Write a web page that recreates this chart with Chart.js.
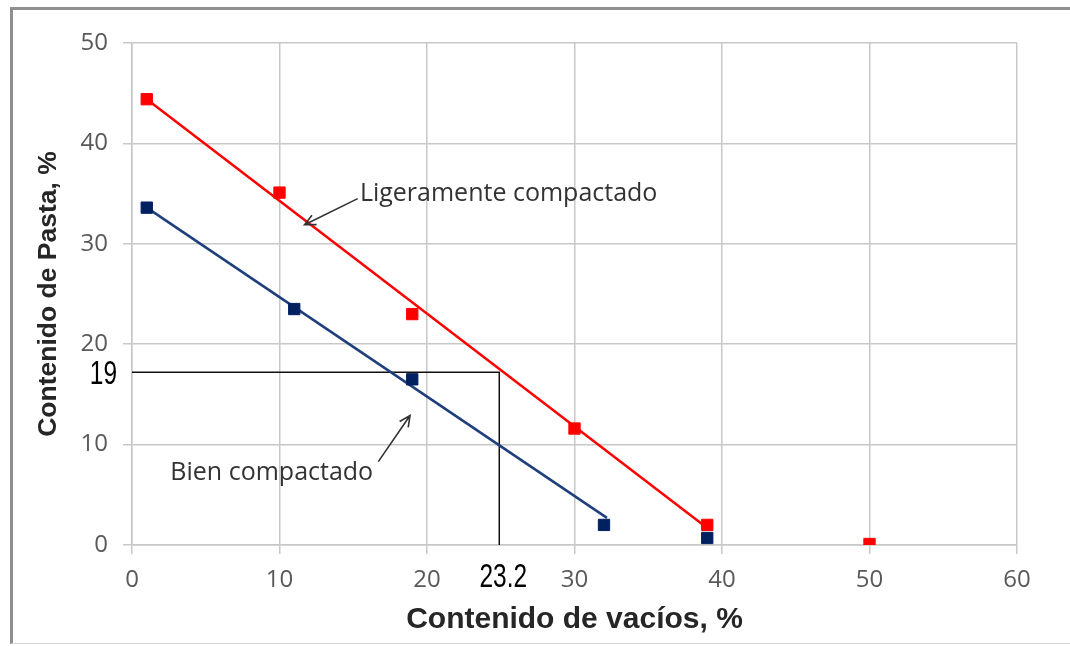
<!DOCTYPE html>
<html>
<head>
<meta charset="utf-8">
<script src="https://cdn.jsdelivr.net/npm/chart.js@4.4.1/dist/chart.umd.min.js"></script>
<style>
    body { margin: 0; background: #fff; }
    #wrap { position: relative; width: 1070px; height: 646px; }
    #frame {
        position: absolute; left: 10px; top: 7px; right: -4px; bottom: 2px;
        border-top: 3px solid #8f8f8f; border-left: 3px solid #8f8f8f;
        border-bottom: 1px solid #d8d8d8; pointer-events: none;
    }
</style>
</head>
<body>
<div id="wrap">
    <canvas id="grafico"></canvas>
    <div id="frame"></div>
</div>
<script>
// datos
const vaciosLigero = [1, 10, 19, 30, 39, 50];
const pastaLigero = [44.4, 35.1, 23.0, 11.6, 2.0, 0.1];
const vaciosBien = [1, 11, 19, 32, 39];
const pastaBien = [33.6, 23.5, 16.5, 2.0, 0.7];

// rectas de tendencia
const tendLigeroX = [1, 39];
const tendLigeroY = [44.4, 1.7];
const tendBienX = [1, 32.2];
const tendBienY = [33.6, 2.7];

// lectura del grafico (linea negra)
const lecturaX = [0, 24.9, 24.9];
const lecturaY = [17.2, 17.2, 0];
const etiquetaLecturaY = "19";
const etiquetaLecturaX = "23.2";

const ticksX = [0, 10, 20, 30, 40, 50, 60];
const ticksY = [0, 10, 20, 30, 40, 50];

const puntos = (xs, ys) => xs.map((x, i) => ({ x: x, y: ys[i] }));

// notas con flecha, en unidades del grafico
const notas = [
    { texto: "Ligeramente compactado", tx: 15.45, ty: 34.95, desde: [15.3, 34.5], hasta: [11.7, 31.9] },
    { texto: "Bien compactado", tx: 2.6, ty: 7.2, desde: [16.7, 8.3], hasta: [18.85, 12.9] },
];

const notasPlugin = {
    id: "notas",
    afterDatasetsDraw(chart) {
        const ctx = chart.ctx;
        const sx = chart.scales.x, sy = chart.scales.y;
        ctx.save();
        ctx.font = "25px 'Open Sans'";
        ctx.fillStyle = "#333";
        ctx.strokeStyle = "#333";
        ctx.lineWidth = 1.6;
        ctx.textBaseline = "middle";
        ctx.textAlign = "left";
        notas.forEach((n) => {
            ctx.fillText(n.texto, sx.getPixelForValue(n.tx), sy.getPixelForValue(n.ty));
            const x0 = sx.getPixelForValue(n.desde[0]), y0 = sy.getPixelForValue(n.desde[1]);
            const x1 = sx.getPixelForValue(n.hasta[0]), y1 = sy.getPixelForValue(n.hasta[1]);
            ctx.beginPath();
            ctx.moveTo(x0, y0);
            ctx.lineTo(x1, y1);
            const a = Math.atan2(y1 - y0, x1 - x0);
            ctx.moveTo(x1 - 12 * Math.cos(a - 0.45), y1 - 12 * Math.sin(a - 0.45));
            ctx.lineTo(x1, y1);
            ctx.lineTo(x1 - 12 * Math.cos(a + 0.45), y1 - 12 * Math.sin(a + 0.45));
            ctx.stroke();
        });

        // valores leidos, letra estrecha
        ctx.font = "34px 'Liberation Sans', Arial";
        ctx.fillStyle = "#000";
        ctx.textAlign = "right";
        ctx.save();
        ctx.translate(sx.left - 15, sy.getPixelForValue(lecturaY[0]) + 2);
        ctx.scale(0.72, 1);
        ctx.fillText(etiquetaLecturaY, 0, 0);
        ctx.restore();
        ctx.textAlign = "center";
        ctx.translate(sx.getPixelForValue(lecturaX[1]) + 4, sy.bottom + 33);
        ctx.scale(0.72, 1);
        ctx.fillText(etiquetaLecturaX, 0, 0);
        ctx.restore();
    }
};

new Chart(document.getElementById("grafico"), {
    type: "scatter",
    data: {
        datasets: [
            {
                label: "Ligeramente compactado",
                data: puntos(vaciosLigero, pastaLigero),
                pointStyle: "rect",
                pointRadius: 8,
                backgroundColor: "#ff0000",
                borderColor: "#ff0000",
                borderWidth: 1,
                order: 0,
            },
            {
                label: "Bien compactado",
                data: puntos(vaciosBien, pastaBien),
                pointStyle: "rect",
                pointRadius: 8,
                backgroundColor: "#002060",
                borderColor: "#002060",
                borderWidth: 1,
                order: 0,
            },
            {
                data: puntos(tendLigeroX, tendLigeroY),
                showLine: true,
                pointRadius: 0,
                borderColor: "#ff0000",
                borderWidth: 2.5,
                order: 1,
            },
            {
                data: puntos(tendBienX, tendBienY),
                showLine: true,
                pointRadius: 0,
                borderColor: "#1f3f7c",
                borderWidth: 2.5,
                order: 1,
            },
            {
                data: puntos(lecturaX, lecturaY),
                showLine: true,
                pointRadius: 0,
                borderColor: "#111",
                borderWidth: 1.5,
                order: 2,
            },
        ],
    },
    options: {
        responsive: true,
        maintainAspectRatio: false,
        animation: false,
        layout: { padding: { top: 43, right: 53, left: 0, bottom: 0 } },
        plugins: {
            legend: { display: false },
            tooltip: { enabled: false },
        },
        scales: {
            x: {
                type: "linear",
                min: ticksX[0],
                max: ticksX[ticksX.length - 1],
                afterBuildTicks: (scale) => { scale.ticks = ticksX.map((v) => ({ value: v })); },
                afterFit: (scale) => { scale.height = 101; },
                grid: { color: "#c8c8c8", lineWidth: 1.5, tickLength: 9 },
                border: { color: "#c8c8c8", width: 1.5 },
                ticks: { color: "#595959", font: { family: "'Open Sans', sans-serif", size: 24 }, padding: 12 },
                title: {
                    display: true,
                    text: "Contenido de vacíos, %",
                    color: "#262626",
                    font: { family: "'Liberation Sans', Arial", size: 30, weight: "bold" },
                    padding: { top: 0, bottom: 8 },
                },
            },
            y: {
                type: "linear",
                min: ticksY[0],
                max: ticksY[ticksY.length - 1],
                afterBuildTicks: (scale) => { scale.ticks = ticksY.map((v) => ({ value: v })); },
                afterFit: (scale) => { scale.width = 132; },
                grid: { color: "#c8c8c8", lineWidth: 1.5, tickLength: 9 },
                border: { color: "#c8c8c8", width: 1.5 },
                ticks: { color: "#595959", font: { family: "'Open Sans', sans-serif", size: 24 }, padding: 15 },
                title: {
                    display: true,
                    text: "Contenido de Pasta, %",
                    color: "#262626",
                    font: { family: "'Liberation Sans', Arial", size: 26.5, weight: "bold" },
                    padding: { top: 33, bottom: 0 },
                },
            },
        },
    },
    plugins: [notasPlugin],
});
</script>
</body>
</html>
